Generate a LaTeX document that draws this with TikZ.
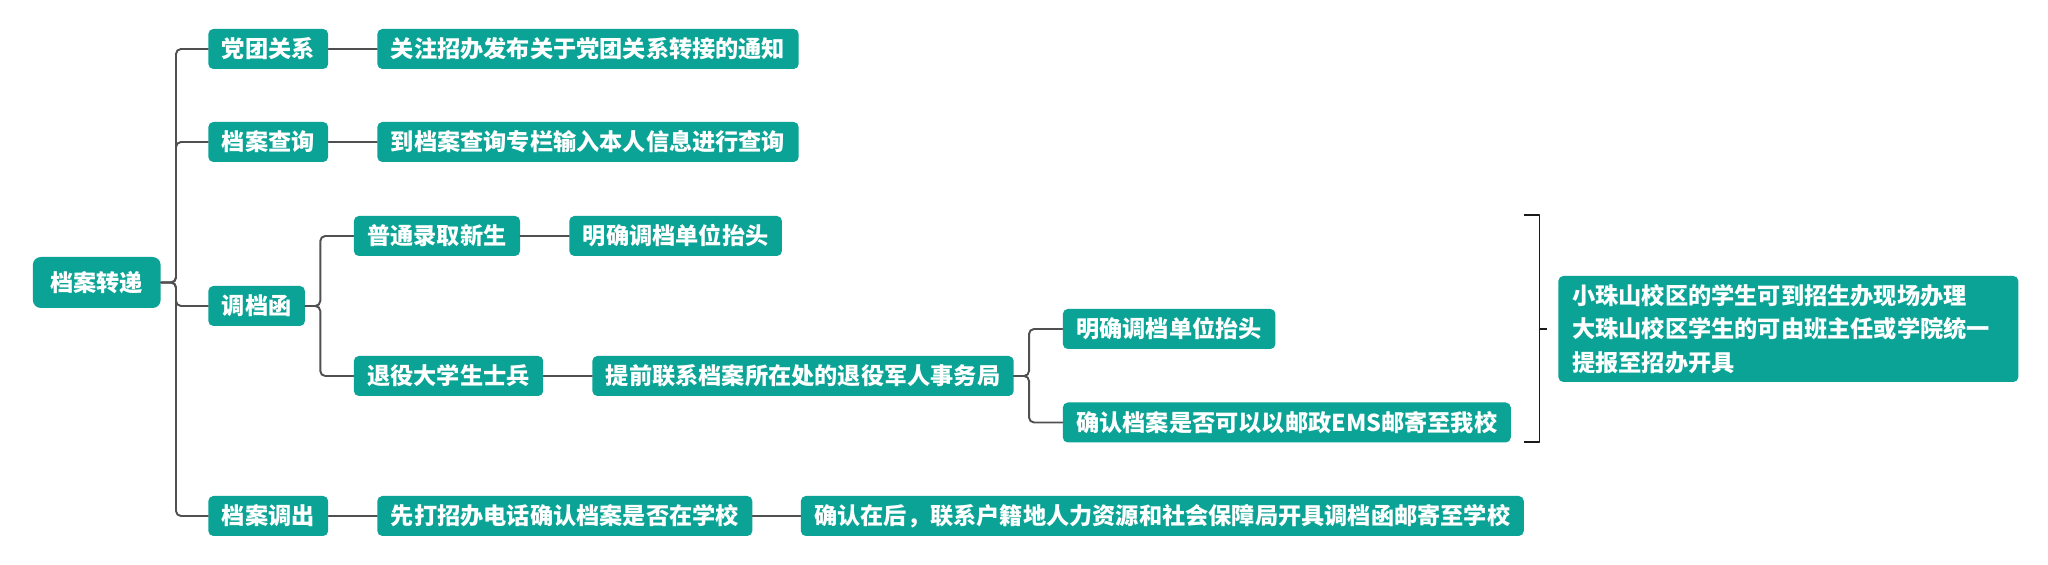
\documentclass[tikz,border=0pt]{standalone}
\usepackage{fontspec}
\newfontfamily\cjk{Noto Sans CJK SC}
\usepackage{xcolor}
\usepackage{tikz}
\usetikzlibrary{calc,positioning}
\definecolor{boxfill}{HTML}{0AA395}
\definecolor{linkgray}{HTML}{505050}
\definecolor{brackblack}{HTML}{1A1A1A}

\begin{document}
\begin{tikzpicture}[line cap=round, line join=round,
  box/.style={fill=boxfill, text=white, font=\cjk\bfseries\fontsize{13.2}{19}\selectfont,
    rounded corners=0.1cm, minimum height=0.8cm, inner xsep=0.27cm, inner ysep=0pt, anchor=west},
  rootbox/.style={box, minimum height=1.02cm, inner xsep=0.35cm, rounded corners=0.16cm},
  link/.style={draw=linkgray, line width=1.1pt, rounded corners=0.1cm},
  bracket/.style={draw=brackblack, line width=1.1pt, line cap=butt}]
  \useasboundingbox (0,0) rectangle (40.96,11.3);

  % Root
  \node[rootbox] (root) at (0.65,5.65) {档案转递};

  % Level 1
  \node[box] (party) at (4.16,10.32) {党团关系};
  \node[box] (query) at (4.16,8.46) {档案查询};
  \node[box] (letter) at (4.16,5.18) {调档函};
  \node[box] (out) at (4.16,0.98) {档案调出};

  % Level 2
  \node[box] (partyA) at (7.54,10.32) {关注招办发布关于党团关系转接的通知};
  \node[box] (queryA) at (7.54,8.46) {到档案查询专栏输入本人信息进行查询};
  \node[box] (normal) at (7.07,6.58) {普通录取新生};
  \node[box] (soldier) at (7.07,3.78) {退役大学生士兵};
  \node[box] (outA) at (7.54,0.98) {先打招办电话确认档案是否在学校};

  % Level 3
  \node[box] (normalA) at (11.38,6.58) {明确调档单位抬头};
  \node[box] (soldierA) at (11.84,3.78) {提前联系档案所在处的退役军人事务局};
  \node[box] (outB) at (16.01,0.98) {确认在后，联系户籍地人力资源和社会保障局开具调档函邮寄至学校};

  % Level 4
  \node[box] (head) at (21.25,4.72) {明确调档单位抬头};
  \node[box] (ems) at (21.25,2.85) {确认档案是否可以以邮政EMS邮寄至我校};

  % Summary
  \node[box, text width=8.64cm, align=left, minimum height=2.12cm, inner xsep=0.28cm]
    (note) at (31.16,4.72) {小珠山校区的学生可到招生办现场办理\\大珠山校区学生的可由班主任或学院统一\\提报至招办开具};

  % Connectors
  \foreach \c in {party,query,letter,out}
    \draw[link] (root.east) -- ++(0.3,0) |- (\c.west);
  \draw[link] (party.east) -- (partyA.west);
  \draw[link] (query.east) -- (queryA.west);
  \draw[link] (out.east) -- (outA.west);
  \draw[link] (outA.east) -- (outB.west);
  \foreach \c in {normal,soldier}
    \draw[link] (letter.east) -- ++(0.3,0) |- (\c.west);
  \draw[link] (normal.east) -- (normalA.west);
  \draw[link] (soldier.east) -- (soldierA.west);
  \foreach \c in {head,ems}
    \draw[link] (soldierA.east) -- ++(0.3,0) |- (\c.west);

  % Bracket
  \coordinate (brtop) at (30.48,7.0);
  \coordinate (brbot) at (30.48,2.46);
  \coordinate (brmid) at (30.79,4.72);
  \draw[bracket] (brtop) -- ++(0.31,0) |- (brbot);
  \draw[bracket] (brmid) -- ++(0.15,0);
\end{tikzpicture}
\end{document}
